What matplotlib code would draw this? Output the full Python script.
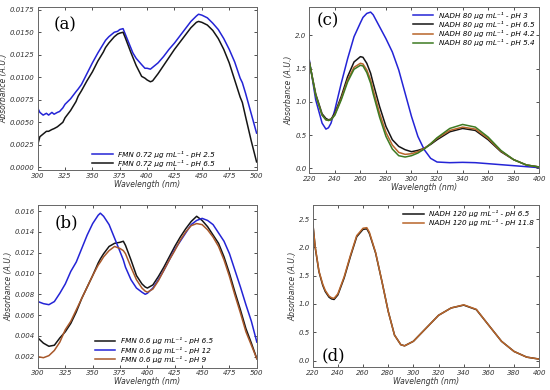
import matplotlib
matplotlib.use("Agg")
import matplotlib.pyplot as plt

# ---------------- data ----------------
# Panel (a): FMN 0.72 ug/mL
wl_a = [300, 302, 305, 308, 310, 313, 315, 318, 320, 323, 325, 330, 335, 337, 340, 345, 350, 355,
        360, 362, 365, 370, 373, 375, 378, 380, 385, 387, 390, 395, 398, 400, 403, 405,
        410, 415, 420, 425, 430, 435, 440, 445, 447, 450, 455, 460, 465, 470, 475,
        480, 485, 487, 490, 495, 500]
fmn_a_ph25 = [0.0066, 0.0061, 0.0058, 0.0060, 0.0058, 0.0061, 0.0059, 0.0061, 0.0062, 0.0066, 0.0070,
              0.0076, 0.0084, 0.0087, 0.0092, 0.0104, 0.0116, 0.0127, 0.0137, 0.0141, 0.0145, 0.0150,
              0.0151, 0.0153, 0.0154, 0.0148, 0.0133, 0.0127, 0.0121, 0.0114, 0.0110, 0.0110, 0.0109,
              0.0111, 0.0116, 0.0123, 0.0131, 0.0138, 0.0146, 0.0154, 0.0162, 0.0168, 0.0170, 0.0169,
              0.0166, 0.0160, 0.0153, 0.0143, 0.0131, 0.0117, 0.0099, 0.0094, 0.0082, 0.0060, 0.0038]
fmn_a_ph65 = [0.0025, 0.0034, 0.0037, 0.0040, 0.0040, 0.0042, 0.0043, 0.0045, 0.0047, 0.0050, 0.0055,
              0.0063, 0.0073, 0.0079, 0.0085, 0.0096, 0.0106, 0.0118, 0.0128, 0.0133, 0.0138, 0.0145,
              0.0148, 0.0149, 0.0150, 0.0144, 0.0128, 0.0122, 0.0113, 0.0101, 0.0099, 0.0097, 0.0095,
              0.0096, 0.0104, 0.0113, 0.0122, 0.0131, 0.0139, 0.0147, 0.0155, 0.0161, 0.0162, 0.0161,
              0.0158, 0.0152, 0.0143, 0.0131, 0.0116, 0.0097, 0.0078, 0.0072, 0.0056, 0.0030, 0.0006]

# Panel (b): FMN 0.6 ug/mL
wl_b = [300, 305, 310, 315, 320, 325, 330, 335, 340, 345, 350, 355, 357, 360, 365, 370, 375, 378,
        380, 385, 390, 395, 398, 400, 405, 410, 415, 420, 425, 430, 435, 440, 445, 450, 455,
        460, 465, 470, 475, 480, 485, 490, 495, 500]
fmn_b_ph65 = [0.0038, 0.0033, 0.0030, 0.0031, 0.0038, 0.0044, 0.0052, 0.0063, 0.0076, 0.0087, 0.0098,
              0.0110, 0.0114, 0.0119, 0.0126, 0.0129, 0.0130, 0.0131, 0.0127, 0.0113, 0.0098, 0.0090,
              0.0087, 0.0086, 0.0089, 0.0097, 0.0106, 0.0116, 0.0126, 0.0135, 0.0143, 0.0150, 0.0155,
              0.0151, 0.0145, 0.0137, 0.0129, 0.0116, 0.0100, 0.0082, 0.0065, 0.0047, 0.0033, 0.0018]
fmn_b_ph12 = [0.0073, 0.0071, 0.0070, 0.0073, 0.0081, 0.0090, 0.0102, 0.0111, 0.0124, 0.0137, 0.0148,
              0.0156, 0.0158, 0.0155, 0.0147, 0.0134, 0.0121, 0.0113, 0.0106, 0.0094, 0.0086, 0.0082,
              0.0080, 0.0081, 0.0086, 0.0094, 0.0103, 0.0113, 0.0123, 0.0131, 0.0139, 0.0147, 0.0151,
              0.0153, 0.0151, 0.0147, 0.0139, 0.0131, 0.0119, 0.0103, 0.0087, 0.0070, 0.0054, 0.0034]
fmn_b_ph9 = [0.0020, 0.0019, 0.0021, 0.0026, 0.0034, 0.0046, 0.0054, 0.0065, 0.0076, 0.0087, 0.0098,
             0.0108, 0.0111, 0.0116, 0.0122, 0.0126, 0.0124, 0.0122, 0.0119, 0.0106, 0.0094, 0.0086,
             0.0083, 0.0082, 0.0085, 0.0093, 0.0103, 0.0113, 0.0122, 0.0132, 0.0140, 0.0146, 0.0148,
             0.0147, 0.0142, 0.0135, 0.0126, 0.0113, 0.0097, 0.0079, 0.0062, 0.0044, 0.0031, 0.0018]

# Panel (c): NADH 80 ug/mL
wl_c = [220, 225, 230, 233, 235, 237, 240, 245, 250, 255, 260, 262, 265, 268, 270, 275, 280, 285,
        290, 295, 300, 305, 310, 315, 320, 330, 340, 350, 360, 370, 380, 390, 400]
nadh_ph3 = [1.63, 1.03, 0.68, 0.59, 0.61, 0.68, 0.88, 1.28, 1.65, 1.98, 2.19, 2.27, 2.33, 2.35, 2.31,
            2.13, 1.95, 1.75, 1.48, 1.13, 0.78, 0.48, 0.28, 0.15, 0.095, 0.085, 0.09, 0.085, 0.07,
            0.055, 0.04, 0.025, 0.01]
nadh_ph65 = [1.60, 1.12, 0.82, 0.75, 0.73, 0.74, 0.83, 1.08, 1.38, 1.60, 1.68, 1.67, 1.58, 1.43, 1.28,
             0.93, 0.63, 0.43, 0.33, 0.28, 0.25, 0.27, 0.30, 0.36, 0.43, 0.55, 0.60, 0.57, 0.43,
             0.25, 0.13, 0.05, 0.02]
nadh_ph42 = [1.60, 1.10, 0.80, 0.73, 0.72, 0.73, 0.81, 1.05, 1.33, 1.52, 1.58, 1.57, 1.48, 1.33, 1.18,
             0.83, 0.54, 0.35, 0.24, 0.21, 0.22, 0.25, 0.30, 0.37, 0.45, 0.57, 0.62, 0.59, 0.45,
             0.26, 0.13, 0.05, 0.02]
nadh_ph54 = [1.60, 1.10, 0.80, 0.73, 0.72, 0.73, 0.80, 1.03, 1.30, 1.49, 1.55, 1.54, 1.44, 1.28, 1.12,
             0.77, 0.48, 0.29, 0.19, 0.17, 0.19, 0.23, 0.29, 0.37, 0.46, 0.60, 0.66, 0.62, 0.47,
             0.27, 0.13, 0.05, 0.02]

# Panel (d): NADH 120 ug/mL
wl_d = [220, 222, 225, 228, 230, 233, 235, 237, 240, 245, 250, 255, 260, 263, 265, 270, 275, 280,
        285, 290, 293, 300, 310, 320, 330, 340, 350, 360, 370, 380, 390, 400]
nadh120_ph65 = [2.45, 2.00, 1.57, 1.33, 1.22, 1.12, 1.09, 1.08, 1.16, 1.46, 1.84, 2.19, 2.32, 2.33,
                2.25, 1.90, 1.40, 0.87, 0.45, 0.28, 0.26, 0.34, 0.57, 0.80, 0.93, 0.98, 0.90, 0.62,
                0.34, 0.16, 0.06, 0.025]
nadh120_ph118 = [2.45, 2.01, 1.58, 1.35, 1.24, 1.14, 1.11, 1.10, 1.18, 1.48, 1.86, 2.21, 2.34, 2.35,
                 2.27, 1.91, 1.40, 0.87, 0.45, 0.28, 0.26, 0.34, 0.57, 0.80, 0.93, 0.985, 0.905, 0.62,
                 0.34, 0.16, 0.06, 0.025]

# ---------------- styling ----------------
BLUE = "#2424d6"
BLACK = "#151515"
ORANGE = "#b8652a"
GREEN = "#3d7a22"
BROWN = "#a8582a"

plt.rcParams["font.family"] = ["DejaVu Sans"]
fig = plt.figure(figsize=(5.5, 3.9), dpi=100)

ax_a = fig.add_axes([0.0685, 0.564, 0.398, 0.418])
ax_c = fig.add_axes([0.5624, 0.5556, 0.418, 0.427])
ax_b = fig.add_axes([0.069, 0.0572, 0.398, 0.417])
ax_d = fig.add_axes([0.5685, 0.0582, 0.412, 0.416])


def style(ax):
    ax.tick_params(direction="in", top=True, right=True, labelsize=5, length=2.5,
                   width=0.6, colors="#333333", pad=2)
    for lab in ax.get_xticklabels() + ax.get_yticklabels():
        lab.set_fontstyle("italic")
    for s in ax.spines.values():
        s.set_color("#666666")
        s.set_linewidth(0.7)
    ax.set_xlabel("Wavelength (nm)", fontsize=5.5, style="italic", color="#333333", labelpad=0.5)
    ax.set_ylabel("Absorbance (A.U.)", fontsize=5.5, style="italic", color="#333333", labelpad=1)


lw = 1.1
leg_prop = {"size": 5.2, "style": "italic"}

# (a)
ax_a.plot(wl_a, fmn_a_ph25, color=BLUE, lw=lw, label="FMN 0.72 μg mL⁻¹ - pH 2.5")
ax_a.plot(wl_a, fmn_a_ph65, color=BLACK, lw=lw, label="FMN 0.72 μg mL⁻¹ - pH 6.5")
ax_a.set_xlim(300, 500)
ax_a.set_ylim(-0.0003, 0.0178)
ax_a.set_xticks([300, 325, 350, 375, 400, 425, 450, 475, 500])
ax_a.set_yticks([0.0, 0.0025, 0.005, 0.0075, 0.01, 0.0125, 0.015, 0.0175])
ax_a.yaxis.set_major_formatter(matplotlib.ticker.FormatStrFormatter("%.4f"))
style(ax_a)
ax_a.legend(loc="lower center", bbox_to_anchor=(0.53, -0.02), frameon=False,
            prop=leg_prop, handlelength=2.8, labelspacing=0.3)
ax_a.text(0.075, 0.86, "(a)", transform=ax_a.transAxes, fontsize=12, family="DejaVu Serif")

# (c)
ax_c.plot(wl_c, nadh_ph3, color=BLUE, lw=lw, label="NADH 80 μg mL⁻¹ - pH 3")
ax_c.plot(wl_c, nadh_ph65, color=BLACK, lw=lw, label="NADH 80 μg mL⁻¹ - pH 6.5")
ax_c.plot(wl_c, nadh_ph42, color=ORANGE, lw=lw, label="NADH 80 μg mL⁻¹ - pH 4.2")
ax_c.plot(wl_c, nadh_ph54, color=GREEN, lw=lw, label="NADH 80 μg mL⁻¹ - pH 5.4")
ax_c.set_xlim(220, 400)
ax_c.set_ylim(-0.075, 2.43)
ax_c.set_xticks(list(range(220, 401, 20)))
ax_c.set_yticks([0.0, 0.5, 1.0, 1.5, 2.0])
style(ax_c)
ax_c.legend(loc="upper right", frameon=False, prop=leg_prop,
            handlelength=2.8, labelspacing=0.3, borderaxespad=0.3)
ax_c.text(0.03, 0.89, "(c)", transform=ax_c.transAxes, fontsize=12, family="DejaVu Serif")

# (b)
ax_b.plot(wl_b, fmn_b_ph65, color=BLACK, lw=lw, label="FMN 0.6 μg mL⁻¹ - pH 6.5")
ax_b.plot(wl_b, fmn_b_ph12, color=BLUE, lw=lw, label="FMN 0.6 μg mL⁻¹ - pH 12")
ax_b.plot(wl_b, fmn_b_ph9, color=BROWN, lw=lw, label="FMN 0.6 μg mL⁻¹ - pH 9")
ax_b.set_xlim(300, 500)
ax_b.set_ylim(0.00094, 0.01658)
ax_b.set_xticks([300, 325, 350, 375, 400, 425, 450, 475, 500])
ax_b.set_yticks([0.002, 0.004, 0.006, 0.008, 0.010, 0.012, 0.014, 0.016])
ax_b.yaxis.set_major_formatter(matplotlib.ticker.FormatStrFormatter("%.3f"))
style(ax_b)
ax_b.legend(loc="lower center", bbox_to_anchor=(0.53, -0.01), frameon=False,
            prop=leg_prop, handlelength=2.8, labelspacing=0.3)
ax_b.text(0.075, 0.86, "(b)", transform=ax_b.transAxes, fontsize=12, family="DejaVu Serif")

# (d)
ax_d.plot(wl_d, nadh120_ph65, color=BLACK, lw=lw, label="NADH 120 μg mL⁻¹ - pH 6.5")
ax_d.plot(wl_d, nadh120_ph118, color=ORANGE, lw=lw, label="NADH 120 μg mL⁻¹ - pH 11.8")
ax_d.set_xlim(220, 400)
ax_d.set_ylim(-0.12, 2.75)
ax_d.set_xticks(list(range(220, 401, 20)))
ax_d.set_yticks([0.0, 0.5, 1.0, 1.5, 2.0, 2.5])
style(ax_d)
ax_d.legend(loc="upper right", frameon=False, prop=leg_prop,
            handlelength=2.8, labelspacing=0.3, borderaxespad=0.3)
ax_d.text(0.04, 0.04, "(d)", transform=ax_d.transAxes, fontsize=12, family="DejaVu Serif")

fig.savefig("out.png", dpi=100)
